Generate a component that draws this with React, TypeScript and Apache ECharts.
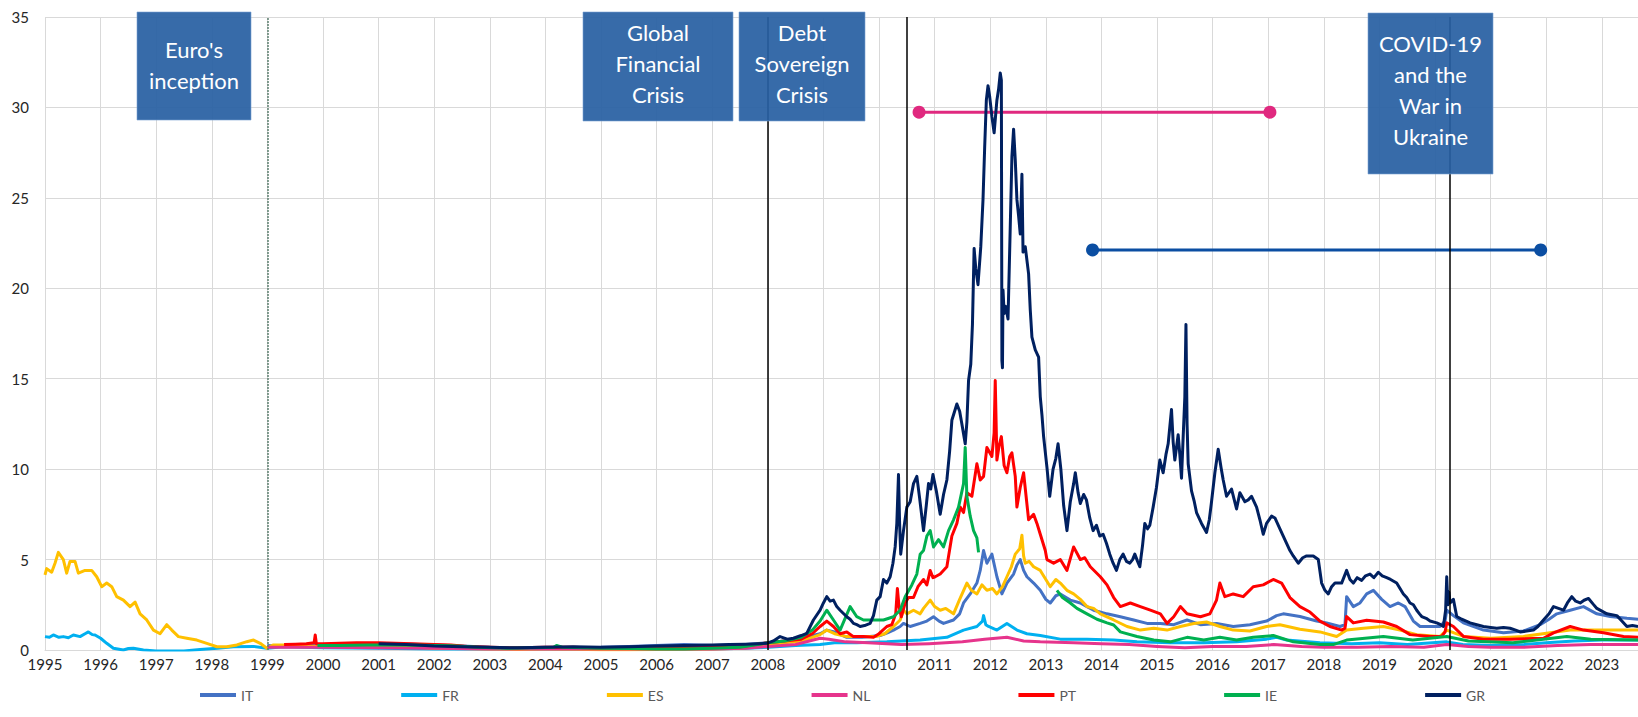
import React, { useEffect, useRef } from "react";
import * as echarts from "echarts";

// ---------- DATA (decimal year, spread vs. Germany in p.p.) ----------
const seriesNames = ["IT", "FR", "ES", "NL", "PT", "IE", "GR"];
const yTicks = [0, 5, 10, 15, 20, 25, 30, 35];

const IT: [number, number][] = [
  [1999.0, 0.25], [1999.3, 0.2], [1999.6, 0.25], [2000.0, 0.3], [2000.5, 0.32], [2001.0, 0.35], [2001.5, 0.33],
  [2002.0, 0.28], [2002.5, 0.22], [2003.0, 0.15], [2003.5, 0.12], [2004.0, 0.15], [2004.5, 0.14], [2005.0, 0.15],
  [2005.5, 0.2], [2006.0, 0.25], [2006.5, 0.3], [2007.0, 0.25], [2007.5, 0.28], [2008.0, 0.4], [2008.3, 0.5],
  [2008.6, 0.6], [2008.8, 0.8], [2008.94, 0.9], [2009.06, 1.1], [2009.2, 1.0], [2009.42, 0.7], [2009.7, 0.7],
  [2010.02, 0.8], [2010.15, 0.95], [2010.26, 1.1], [2010.38, 1.3], [2010.44, 1.47], [2010.56, 1.3], [2010.74, 1.47],
  [2010.86, 1.6], [2010.98, 1.84], [2011.08, 1.6], [2011.16, 1.47], [2011.34, 1.66], [2011.45, 2.0], [2011.52, 2.6],
  [2011.64, 3.1], [2011.76, 3.7], [2011.82, 4.4], [2011.88, 5.5], [2011.94, 4.8], [2012.03, 5.3], [2012.12, 4.05],
  [2012.21, 3.1], [2012.3, 3.7], [2012.42, 4.2], [2012.48, 4.7], [2012.54, 5.0], [2012.6, 4.4], [2012.66, 4.05],
  [2012.78, 3.7], [2012.9, 3.3], [2013.0, 2.8], [2013.08, 2.6], [2013.18, 3.0], [2013.26, 3.1], [2013.44, 2.76],
  [2013.62, 2.6], [2013.74, 2.4], [2013.86, 2.2], [2014.1, 2.0], [2014.34, 1.84], [2014.58, 1.66], [2014.82, 1.47],
  [2015.06, 1.47], [2015.3, 1.4], [2015.54, 1.66], [2015.78, 1.4], [2016.07, 1.47], [2016.37, 1.3], [2016.67, 1.4],
  [2016.97, 1.6], [2017.15, 1.9], [2017.27, 2.0], [2017.57, 1.85], [2017.87, 1.6], [2018.05, 1.5], [2018.29, 1.3],
  [2018.38, 1.4], [2018.41, 2.95], [2018.53, 2.4], [2018.65, 2.6], [2018.77, 3.1], [2018.89, 3.3], [2019.04, 2.8],
  [2019.19, 2.4], [2019.34, 2.6], [2019.46, 2.4], [2019.61, 1.6], [2019.73, 1.3], [2019.91, 1.3], [2020.09, 1.3],
  [2020.18, 1.6], [2020.21, 2.2], [2020.33, 1.9], [2020.51, 1.5], [2020.87, 1.1], [2021.23, 0.95], [2021.59, 1.05],
  [2021.89, 1.4], [2022.05, 1.7], [2022.19, 2.0], [2022.43, 2.2], [2022.67, 2.4], [2022.91, 2.0], [2023.15, 1.85],
  [2023.45, 1.75], [2023.65, 1.7],
];

const FR: [number, number][] = [
  [1995.0, 0.74], [1995.08, 0.7], [1995.15, 0.83], [1995.25, 0.7], [1995.33, 0.74], [1995.42, 0.68], [1995.51, 0.83],
  [1995.63, 0.74], [1995.72, 0.9], [1995.78, 1.0], [1995.85, 0.85], [1995.9, 0.83], [1996.0, 0.65], [1996.11, 0.37],
  [1996.23, 0.1], [1996.41, 0.0], [1996.5, 0.08], [1996.59, 0.1], [1996.77, 0.0], [1997.0, -0.05], [1997.5, -0.05],
  [1997.79, 0.03], [1998.1, 0.1], [1998.39, 0.18], [1998.75, 0.2], [1998.99, 0.1], [1999.29, 0.18], [1999.6, 0.15],
  [2000.0, 0.12], [2001.0, 0.1], [2002.0, 0.06], [2003.0, 0.05], [2004.0, 0.05], [2005.0, 0.03], [2006.0, 0.05],
  [2007.0, 0.05], [2007.6, 0.1], [2008.0, 0.15], [2008.5, 0.25], [2008.94, 0.3], [2009.2, 0.4], [2009.6, 0.4],
  [2010.14, 0.45], [2010.74, 0.55], [2011.22, 0.7], [2011.52, 1.1], [2011.76, 1.3], [2011.86, 1.6], [2011.88, 1.9],
  [2011.92, 1.4], [2011.97, 1.3], [2012.12, 1.1], [2012.3, 1.47], [2012.48, 1.1], [2012.66, 0.9], [2012.9, 0.8],
  [2013.26, 0.6], [2013.74, 0.6], [2014.22, 0.55], [2014.64, 0.45], [2015.24, 0.4], [2015.84, 0.4], [2016.43, 0.45],
  [2016.97, 0.6], [2017.15, 0.7], [2017.33, 0.55], [2017.93, 0.4], [2018.5, 0.35], [2019.0, 0.4], [2019.5, 0.3],
  [2020.21, 0.45], [2020.5, 0.3], [2021.0, 0.25], [2021.6, 0.3], [2022.0, 0.4], [2022.5, 0.5], [2023.0, 0.55],
  [2023.65, 0.55],
];

const ES: [number, number][] = [
  [1995.0, 4.15], [1995.03, 4.5], [1995.12, 4.3], [1995.18, 4.8], [1995.24, 5.4], [1995.33, 5.0], [1995.39, 4.25],
  [1995.45, 4.9], [1995.54, 4.9], [1995.6, 4.25], [1995.72, 4.4], [1995.84, 4.4], [1995.93, 4.05], [1996.02, 3.5],
  [1996.11, 3.7], [1996.2, 3.5], [1996.29, 2.95], [1996.41, 2.76], [1996.53, 2.4], [1996.62, 2.65], [1996.71, 2.0],
  [1996.83, 1.66], [1996.95, 1.1], [1997.07, 0.9], [1997.19, 1.4], [1997.28, 1.1], [1997.4, 0.74], [1997.55, 0.65],
  [1997.73, 0.55], [1997.91, 0.37], [1998.09, 0.18], [1998.27, 0.18], [1998.45, 0.28], [1998.63, 0.46], [1998.75, 0.55],
  [1998.87, 0.37], [1998.99, 0.1], [1999.11, 0.28], [1999.29, 0.28], [1999.6, 0.22], [2000.0, 0.2], [2000.5, 0.22],
  [2001.0, 0.2], [2001.5, 0.18], [2002.0, 0.1], [2002.5, 0.08], [2003.0, 0.05], [2003.5, 0.03], [2004.0, 0.05],
  [2004.5, 0.04], [2005.0, 0.02], [2005.5, 0.02], [2006.0, 0.03], [2006.5, 0.04], [2007.0, 0.05], [2007.5, 0.1],
  [2008.0, 0.3], [2008.3, 0.4], [2008.6, 0.5], [2008.8, 0.7], [2008.94, 0.85], [2009.06, 1.1], [2009.2, 0.9],
  [2009.42, 0.74], [2009.7, 0.74], [2009.94, 0.74], [2010.1, 0.9], [2010.26, 1.3], [2010.38, 1.66], [2010.44, 2.2],
  [2010.5, 2.0], [2010.62, 2.2], [2010.74, 2.0], [2010.8, 2.3], [2010.92, 2.76], [2011.0, 2.4], [2011.1, 2.2],
  [2011.2, 2.3], [2011.34, 2.0], [2011.45, 2.8], [2011.58, 3.7], [2011.66, 3.3], [2011.76, 3.1], [2011.85, 3.6],
  [2011.94, 3.3], [2012.04, 3.4], [2012.12, 3.1], [2012.22, 3.5], [2012.3, 4.05], [2012.38, 4.6], [2012.45, 5.3],
  [2012.53, 5.6], [2012.57, 6.35], [2012.6, 5.2], [2012.63, 4.8], [2012.7, 4.9], [2012.78, 4.6], [2012.9, 4.4],
  [2013.0, 3.9], [2013.08, 3.5], [2013.18, 3.9], [2013.26, 3.7], [2013.38, 3.3], [2013.5, 3.1], [2013.62, 2.8],
  [2013.74, 2.4], [2013.86, 2.3], [2013.98, 2.0], [2014.22, 1.66], [2014.46, 1.3], [2014.7, 1.1], [2014.94, 1.2],
  [2015.18, 1.1], [2015.42, 1.3], [2015.66, 1.47], [2015.89, 1.55], [2016.13, 1.3], [2016.37, 1.1], [2016.67, 1.05],
  [2016.97, 1.3], [2017.21, 1.4], [2017.57, 1.15], [2017.93, 1.0], [2018.23, 0.75], [2018.41, 1.1], [2018.71, 1.2],
  [2019.07, 1.3], [2019.37, 1.1], [2019.67, 0.85], [2020.09, 0.75], [2020.21, 1.1], [2020.51, 0.75], [2021.0, 0.65],
  [2021.59, 0.75], [2022.07, 0.95], [2022.43, 1.1], [2022.97, 1.1], [2023.65, 1.1],
];

const NL: [number, number][] = [
  [1999.0, 0.15], [1999.5, 0.15], [2000.0, 0.15], [2001.0, 0.12], [2002.0, 0.1], [2003.0, 0.05], [2004.0, 0.05],
  [2005.0, 0.05], [2006.0, 0.05], [2007.0, 0.05], [2007.6, 0.1], [2008.0, 0.2], [2008.5, 0.3], [2008.94, 0.65],
  [2009.1, 0.6], [2009.4, 0.45], [2009.8, 0.4], [2010.4, 0.3], [2010.9, 0.35], [2011.5, 0.45], [2011.9, 0.6],
  [2012.3, 0.7], [2012.6, 0.5], [2012.9, 0.45], [2013.5, 0.4], [2014.0, 0.35], [2014.5, 0.3], [2015.0, 0.2],
  [2015.5, 0.12], [2016.0, 0.2], [2016.6, 0.2], [2017.1, 0.3], [2017.6, 0.2], [2018.0, 0.15], [2018.6, 0.15],
  [2019.2, 0.2], [2019.8, 0.15], [2020.21, 0.3], [2020.6, 0.2], [2021.0, 0.15], [2021.6, 0.15], [2022.2, 0.25],
  [2022.8, 0.3], [2023.3, 0.3], [2023.65, 0.3],
];

const PT: [number, number][] = [
  [1999.3, 0.3], [1999.5, 0.32], [1999.7, 0.35], [1999.84, 0.4], [1999.86, 0.83], [1999.88, 0.35], [2000.0, 0.35],
  [2000.3, 0.38], [2000.6, 0.4], [2001.0, 0.4], [2001.3, 0.38], [2001.6, 0.35], [2002.0, 0.3], [2002.3, 0.28],
  [2002.6, 0.2], [2003.0, 0.15], [2003.5, 0.12], [2004.0, 0.15], [2004.5, 0.15], [2005.0, 0.1], [2005.5, 0.12],
  [2006.0, 0.15], [2006.5, 0.18], [2007.0, 0.15], [2007.5, 0.18], [2008.0, 0.4], [2008.3, 0.5], [2008.6, 0.6],
  [2008.8, 0.9], [2008.94, 1.3], [2009.06, 1.6], [2009.18, 1.3], [2009.3, 0.9], [2009.42, 1.0], [2009.54, 0.74],
  [2009.72, 0.74], [2009.9, 0.7], [2010.0, 0.9], [2010.14, 1.3], [2010.23, 1.4], [2010.3, 2.0], [2010.33, 3.4],
  [2010.36, 2.4], [2010.4, 1.84], [2010.47, 2.6], [2010.53, 2.9], [2010.62, 2.9], [2010.7, 3.5], [2010.8, 3.9],
  [2010.86, 3.6], [2010.92, 4.4], [2010.97, 4.0], [2011.01, 4.05], [2011.1, 4.2], [2011.22, 4.6], [2011.31, 6.3],
  [2011.4, 7.0], [2011.46, 7.9], [2011.52, 7.6], [2011.58, 8.7], [2011.67, 8.5], [2011.76, 10.3], [2011.82, 9.4],
  [2011.88, 9.6], [2011.94, 11.2], [2012.03, 10.7], [2012.07, 12.0], [2012.09, 14.9], [2012.12, 10.5],
  [2012.16, 11.3], [2012.2, 11.8], [2012.25, 10.2], [2012.3, 9.8], [2012.35, 10.7], [2012.39, 10.9], [2012.45, 9.6],
  [2012.48, 7.9], [2012.54, 9.0], [2012.6, 9.8], [2012.69, 7.2], [2012.78, 7.5], [2012.84, 7.0], [2012.9, 6.4],
  [2012.99, 5.5], [2013.02, 5.0], [2013.14, 4.8], [2013.26, 5.0], [2013.38, 4.4], [2013.5, 5.7], [2013.62, 5.0],
  [2013.7, 5.1], [2013.8, 4.6], [2013.98, 4.05], [2014.1, 3.6], [2014.22, 2.9], [2014.34, 2.4], [2014.52, 2.6],
  [2014.7, 2.4], [2014.88, 2.2], [2015.06, 2.0], [2015.18, 1.47], [2015.3, 1.84], [2015.42, 2.4], [2015.54, 2.0],
  [2015.78, 1.84], [2015.95, 2.0], [2016.07, 2.76], [2016.13, 3.7], [2016.22, 2.95], [2016.37, 3.1], [2016.55, 2.95],
  [2016.73, 3.5], [2016.91, 3.6], [2017.09, 3.9], [2017.24, 3.7], [2017.39, 2.9], [2017.57, 2.4], [2017.75, 2.1],
  [2017.93, 1.6], [2018.11, 1.3], [2018.32, 1.1], [2018.38, 1.2], [2018.41, 1.85], [2018.53, 1.5], [2018.77, 1.65],
  [2019.07, 1.55], [2019.31, 1.3], [2019.55, 0.85], [2019.91, 0.75], [2020.12, 0.75], [2020.18, 1.0], [2020.21, 1.5],
  [2020.33, 1.3], [2020.51, 0.75], [2020.87, 0.6], [2021.35, 0.6], [2021.95, 0.65], [2022.13, 0.95], [2022.43, 1.3],
  [2022.67, 1.1], [2023.03, 0.95], [2023.39, 0.75], [2023.65, 0.7],
];

// Ireland has a gap in its benchmark series (late 2011 - early 2013)
const IE_A: [number, number][] = [
  [1999.9, 0.25], [2000.3, 0.25], [2000.8, 0.27], [2001.3, 0.28], [2001.8, 0.26], [2002.3, 0.24], [2002.8, 0.15],
  [2003.3, 0.1], [2003.8, 0.12], [2004.15, 0.15], [2004.2, 0.25], [2004.3, 0.15], [2005.0, 0.1], [2005.5, 0.08],
  [2006.0, 0.05], [2006.5, 0.06], [2007.0, 0.1], [2007.5, 0.15], [2008.0, 0.4], [2008.3, 0.5], [2008.6, 0.7],
  [2008.8, 1.1], [2008.94, 1.6], [2009.06, 2.2], [2009.18, 1.66], [2009.3, 1.1], [2009.48, 2.4], [2009.6, 1.84],
  [2009.72, 1.66], [2009.9, 1.66], [2010.08, 1.66], [2010.26, 1.84], [2010.38, 2.2], [2010.47, 2.95], [2010.59, 3.6],
  [2010.68, 4.2], [2010.74, 5.3], [2010.8, 5.5], [2010.86, 6.3], [2010.92, 6.6], [2010.98, 5.7], [2011.07, 6.1],
  [2011.16, 5.7], [2011.25, 6.6], [2011.34, 7.2], [2011.43, 7.9], [2011.52, 9.2], [2011.55, 11.2], [2011.58, 8.5],
  [2011.64, 7.4], [2011.7, 6.6], [2011.76, 6.2], [2011.79, 5.4],
];
const IE_B: [number, number][] = [
  [2013.2, 3.3], [2013.3, 2.9], [2013.44, 2.6], [2013.56, 2.3], [2013.74, 2.0], [2013.92, 1.7], [2014.1, 1.5],
  [2014.22, 1.38], [2014.34, 1.0], [2014.64, 0.75], [2014.94, 0.55], [2015.24, 0.45], [2015.54, 0.7], [2015.84, 0.55],
  [2016.13, 0.7], [2016.43, 0.55], [2016.73, 0.7], [2017.09, 0.8], [2017.45, 0.45], [2017.93, 0.3], [2018.17, 0.3],
  [2018.41, 0.55], [2019.07, 0.75], [2019.6, 0.55], [2020.21, 0.75], [2020.6, 0.5], [2021.4, 0.4], [2022.37, 0.75],
  [2022.8, 0.6], [2023.65, 0.55],
];

const GR: [number, number][] = [
  [2001.0, 0.35], [2001.5, 0.3], [2002.0, 0.22], [2002.5, 0.18], [2003.0, 0.15], [2003.5, 0.12], [2004.0, 0.15],
  [2004.5, 0.18], [2005.0, 0.15], [2005.5, 0.18], [2006.0, 0.22], [2006.5, 0.25], [2007.0, 0.28], [2007.3, 0.3],
  [2007.6, 0.32], [2007.98, 0.37], [2008.1, 0.5], [2008.22, 0.74], [2008.35, 0.6], [2008.46, 0.65], [2008.6, 0.8],
  [2008.7, 0.92], [2008.82, 1.66], [2008.94, 2.2], [2009.0, 2.6], [2009.06, 2.95], [2009.12, 2.7], [2009.18, 2.76],
  [2009.24, 2.4], [2009.3, 2.2], [2009.42, 1.84], [2009.48, 1.7], [2009.54, 1.47], [2009.6, 1.4], [2009.66, 1.3],
  [2009.74, 1.35], [2009.84, 1.47], [2009.9, 1.9], [2009.96, 2.76], [2010.02, 2.95], [2010.08, 3.9], [2010.14, 3.7],
  [2010.2, 4.05], [2010.25, 4.8], [2010.29, 5.7], [2010.32, 7.0], [2010.35, 9.7], [2010.37, 7.0], [2010.39, 5.3],
  [2010.44, 6.6], [2010.5, 7.9], [2010.56, 8.2], [2010.62, 9.2], [2010.68, 9.6], [2010.73, 8.4], [2010.8, 6.6],
  [2010.85, 8.0], [2010.89, 9.2], [2010.93, 8.9], [2010.97, 9.7], [2011.03, 8.8], [2011.1, 7.5], [2011.16, 8.6],
  [2011.22, 9.4], [2011.27, 11.0], [2011.31, 12.7], [2011.4, 13.6], [2011.45, 13.2], [2011.49, 12.5], [2011.55, 11.4],
  [2011.58, 12.6], [2011.61, 14.9], [2011.65, 15.8], [2011.68, 18.0], [2011.71, 22.2], [2011.74, 21.1], [2011.78, 20.2],
  [2011.83, 22.3], [2011.87, 24.9], [2011.9, 27.8], [2011.93, 30.4], [2011.96, 31.2], [2011.99, 30.6], [2012.03, 29.5],
  [2012.07, 28.6], [2012.12, 30.4], [2012.15, 31.0], [2012.18, 31.9], [2012.2, 31.5], [2012.21, 16.0], [2012.22, 15.6],
  [2012.23, 19.9], [2012.25, 18.6], [2012.28, 19.0], [2012.32, 18.3], [2012.36, 23.4], [2012.39, 27.3], [2012.42, 28.8],
  [2012.45, 27.1], [2012.48, 24.9], [2012.51, 24.0], [2012.54, 23.0], [2012.57, 26.3], [2012.59, 22.0], [2012.63, 22.3],
  [2012.69, 20.8], [2012.72, 18.8], [2012.75, 17.3], [2012.81, 16.6], [2012.87, 16.2], [2012.9, 14.0], [2012.93, 13.0],
  [2012.96, 11.8], [2013.02, 10.1], [2013.07, 8.5], [2013.13, 10.0], [2013.18, 10.6], [2013.22, 11.4], [2013.27, 10.0],
  [2013.32, 8.0], [2013.38, 6.6], [2013.44, 8.2], [2013.5, 9.2], [2013.53, 9.8], [2013.58, 8.7], [2013.62, 8.1],
  [2013.68, 8.6], [2013.73, 8.3], [2013.79, 7.3], [2013.85, 6.6], [2013.91, 6.9], [2013.97, 6.3], [2014.03, 6.4],
  [2014.09, 5.9], [2014.15, 5.3], [2014.21, 4.8], [2014.27, 4.4], [2014.33, 5.0], [2014.39, 5.3], [2014.45, 4.9],
  [2014.51, 4.8], [2014.56, 5.0], [2014.6, 5.3], [2014.65, 4.9], [2014.69, 4.6], [2014.74, 5.8], [2014.78, 7.0],
  [2014.83, 6.7], [2014.87, 6.9], [2014.93, 7.9], [2014.99, 9.0], [2015.05, 10.5], [2015.11, 9.8], [2015.16, 10.8],
  [2015.2, 11.4], [2015.26, 13.3], [2015.29, 11.5], [2015.32, 10.5], [2015.38, 11.9], [2015.41, 10.8], [2015.44, 9.5],
  [2015.47, 11.8], [2015.5, 14.0], [2015.52, 18.0], [2015.54, 12.5], [2015.56, 10.3], [2015.62, 8.8], [2015.67, 8.2],
  [2015.71, 7.6], [2015.8, 7.0], [2015.89, 6.5], [2015.94, 7.2], [2015.98, 8.2], [2016.04, 9.8], [2016.1, 11.1],
  [2016.15, 10.1], [2016.19, 9.4], [2016.25, 8.5], [2016.34, 8.9], [2016.43, 7.8], [2016.49, 8.7], [2016.58, 8.2],
  [2016.64, 8.3], [2016.7, 8.5], [2016.79, 7.9], [2016.85, 7.2], [2016.91, 6.4], [2016.97, 7.0], [2017.06, 7.4],
  [2017.12, 7.3], [2017.21, 6.7], [2017.27, 6.3], [2017.33, 5.9], [2017.39, 5.5], [2017.45, 5.2], [2017.54, 4.8],
  [2017.62, 5.1], [2017.69, 5.2], [2017.81, 5.2], [2017.9, 5.0], [2017.96, 3.7], [2018.02, 3.3], [2018.08, 3.1],
  [2018.14, 3.5], [2018.2, 3.7], [2018.32, 3.7], [2018.41, 4.4], [2018.47, 3.9], [2018.53, 3.7], [2018.6, 4.0],
  [2018.68, 3.85], [2018.75, 4.1], [2018.83, 4.2], [2018.9, 4.0], [2018.98, 4.3], [2019.05, 4.1], [2019.13, 4.0],
  [2019.2, 3.9], [2019.31, 3.7], [2019.37, 3.4], [2019.43, 3.1], [2019.49, 2.9], [2019.55, 2.6], [2019.61, 2.5],
  [2019.67, 2.2], [2019.72, 2.0], [2019.76, 1.85], [2019.84, 1.75], [2019.91, 1.6], [2020.03, 1.5], [2020.1, 1.4],
  [2020.15, 1.3], [2020.19, 2.2], [2020.21, 4.05], [2020.23, 2.5], [2020.25, 3.2], [2020.27, 2.6], [2020.33, 2.8],
  [2020.39, 1.85], [2020.48, 1.7], [2020.56, 1.6], [2020.63, 1.5], [2020.75, 1.4], [2020.87, 1.3], [2021.0, 1.25],
  [2021.11, 1.2], [2021.23, 1.25], [2021.35, 1.2], [2021.45, 1.1], [2021.53, 1.0], [2021.65, 1.05], [2021.77, 1.1],
  [2021.85, 1.3], [2021.95, 1.66], [2022.05, 2.0], [2022.13, 2.4], [2022.22, 2.3], [2022.31, 2.2], [2022.38, 2.6],
  [2022.46, 2.95], [2022.53, 2.7], [2022.61, 2.6], [2022.68, 2.75], [2022.76, 2.85], [2022.84, 2.55], [2022.91, 2.3],
  [2023.0, 2.15], [2023.09, 2.0], [2023.18, 1.95], [2023.27, 1.9], [2023.36, 1.6], [2023.45, 1.3], [2023.55, 1.35],
  [2023.65, 1.3],
];

// Range bars (dumbbells)
const pinkRange: [number, number][] = [[2010.72, 29.74], [2017.03, 29.74]];
const blueRange: [number, number][] = [[2013.84, 22.12], [2021.9, 22.12]];

// Event dates (vertical lines)
const euroInception = 1999.0;
const crisisLines = [2008.0, 2010.5, 2020.26];

// Annotation texts
const annotationTexts = ["Euro's\ninception", "Global\nFinancial\nCrisis", "Debt\nSovereign\nCrisis", "COVID-19\nand the\nWar in\nUkraine"];

// ---------- STYLE / LAYOUT ----------
const colors: Record<string, string> = {
  IT: "#4472C4",
  FR: "#00B0F0",
  ES: "#FFC000",
  NL: "#E6348C",
  PT: "#FF0000",
  IE: "#00B050",
  GR: "#002060",
};
const annotationBoxes = [
  { x: 137, y: 12, w: 114, h: 108, dy: -1 },
  { x: 583, y: 12, w: 150, h: 109, dy: -3 },
  { x: 739, y: 12, w: 126, h: 109, dy: -3 },
  { x: 1368, y: 13, w: 125, h: 161, dy: -4 },
];
const FONT = "Lato, 'Open Sans', sans-serif";

function lineSeries(name: string, data: [number, number][], z: number) {
  return {
    type: "line",
    name,
    data,
    symbol: "none",
    showSymbol: false,
    z,
    lineStyle: { width: 3, color: colors[name], join: "round" },
    itemStyle: { color: colors[name] },
    emphasis: { disabled: true },
  };
}

export default function App() {
  const ref = useRef<HTMLDivElement>(null);
  useEffect(() => {
    document.body.style.margin = "0";
    const chart = echarts.init(ref.current!, null, { renderer: "svg" });

    const graphics: any[] = [];
    annotationBoxes.forEach((b, i) => {
      graphics.push({
        type: "rect",
        z: 100,
        shape: { x: b.x, y: b.y, width: b.w, height: b.h },
        style: { fill: "rgba(40,96,162,0.93)", stroke: "rgba(120,160,210,0.6)", lineWidth: 1 },
      });
      graphics.push({
        type: "text",
        z: 101,
        style: {
          text: annotationTexts[i],
          x: b.x + b.w / 2,
          y: b.y + b.h / 2 + b.dy,
          fill: "#ffffff",
          fontSize: 22,
          fontFamily: FONT,
          align: "center",
          verticalAlign: "middle",
          lineHeight: 31,
        },
      });
    });

    const option: any = {
      animation: false,
      grid: { left: 45, right: 0, top: 17, bottom: 67 },
      legend: {
        data: seriesNames,
        left: 195,
        top: 683,
        icon: "rect",
        itemWidth: 36,
        itemHeight: 4,
        itemGap: 148,
        textStyle: { color: "#595959", fontSize: 14, fontFamily: FONT },
        selectedMode: false,
      },
      xAxis: {
        type: "value",
        min: 1995,
        max: 2023.65,
        interval: 1,
        axisLine: { show: true, lineStyle: { color: "#D9D9D9", width: 1 } },
        axisTick: { show: false },
        splitLine: { show: true, lineStyle: { color: "#D9D9D9", width: 1 } },
        axisLabel: {
          showMaxLabel: false,
          margin: 6,
          color: "#262626",
          fontSize: 15,
          fontFamily: FONT,
          formatter: (v: number) => String(Math.round(v)),
        },
      },
      yAxis: {
        type: "value",
        min: yTicks[0],
        max: yTicks[yTicks.length - 1],
        interval: 5,
        axisLine: { show: false },
        axisTick: { show: false },
        splitLine: { show: true, lineStyle: { color: "#D9D9D9", width: 1 } },
        axisLabel: { color: "#262626", fontSize: 15, fontFamily: FONT, margin: 16 },
      },
      series: [
        {
          type: "line",
          name: "events",
          data: [],
          silent: true,
          z: 1,
          markLine: {
            silent: true,
            symbol: ["none", "none"],
            label: { show: false },
            animation: false,
            data: [
              { xAxis: euroInception, lineStyle: { color: "#5E8070", width: 1.5, type: [2, 1] } },
              ...crisisLines.map((x) => ({ xAxis: x, lineStyle: { color: "#000000", width: 1.5, type: "solid" } })),
            ],
          },
        },
        lineSeries("IT", IT, 3),
        lineSeries("FR", FR, 3),
        lineSeries("ES", ES, 3),
        lineSeries("NL", NL, 3),
        lineSeries("PT", PT, 3),
        lineSeries("IE", IE_A, 3),
        lineSeries("IE", IE_B, 3),
        lineSeries("GR", GR, 4),
        {
          type: "line",
          name: "range1",
          data: pinkRange,
          symbol: "circle",
          symbolSize: 13,
          z: 3,
          lineStyle: { width: 3, color: "#E0297F" },
          itemStyle: { color: "#E0297F" },
          emphasis: { disabled: true },
        },
        {
          type: "line",
          name: "range2",
          data: blueRange,
          symbol: "circle",
          symbolSize: 13,
          z: 3,
          lineStyle: { width: 3, color: "#0B4EA2" },
          itemStyle: { color: "#0B4EA2" },
          emphasis: { disabled: true },
        },
      ],
      graphic: graphics,
    };
    chart.setOption(option);
    return () => chart.dispose();
  }, []);
  return <div ref={ref} style={{ width: 1638, height: 717 }} />;
}
